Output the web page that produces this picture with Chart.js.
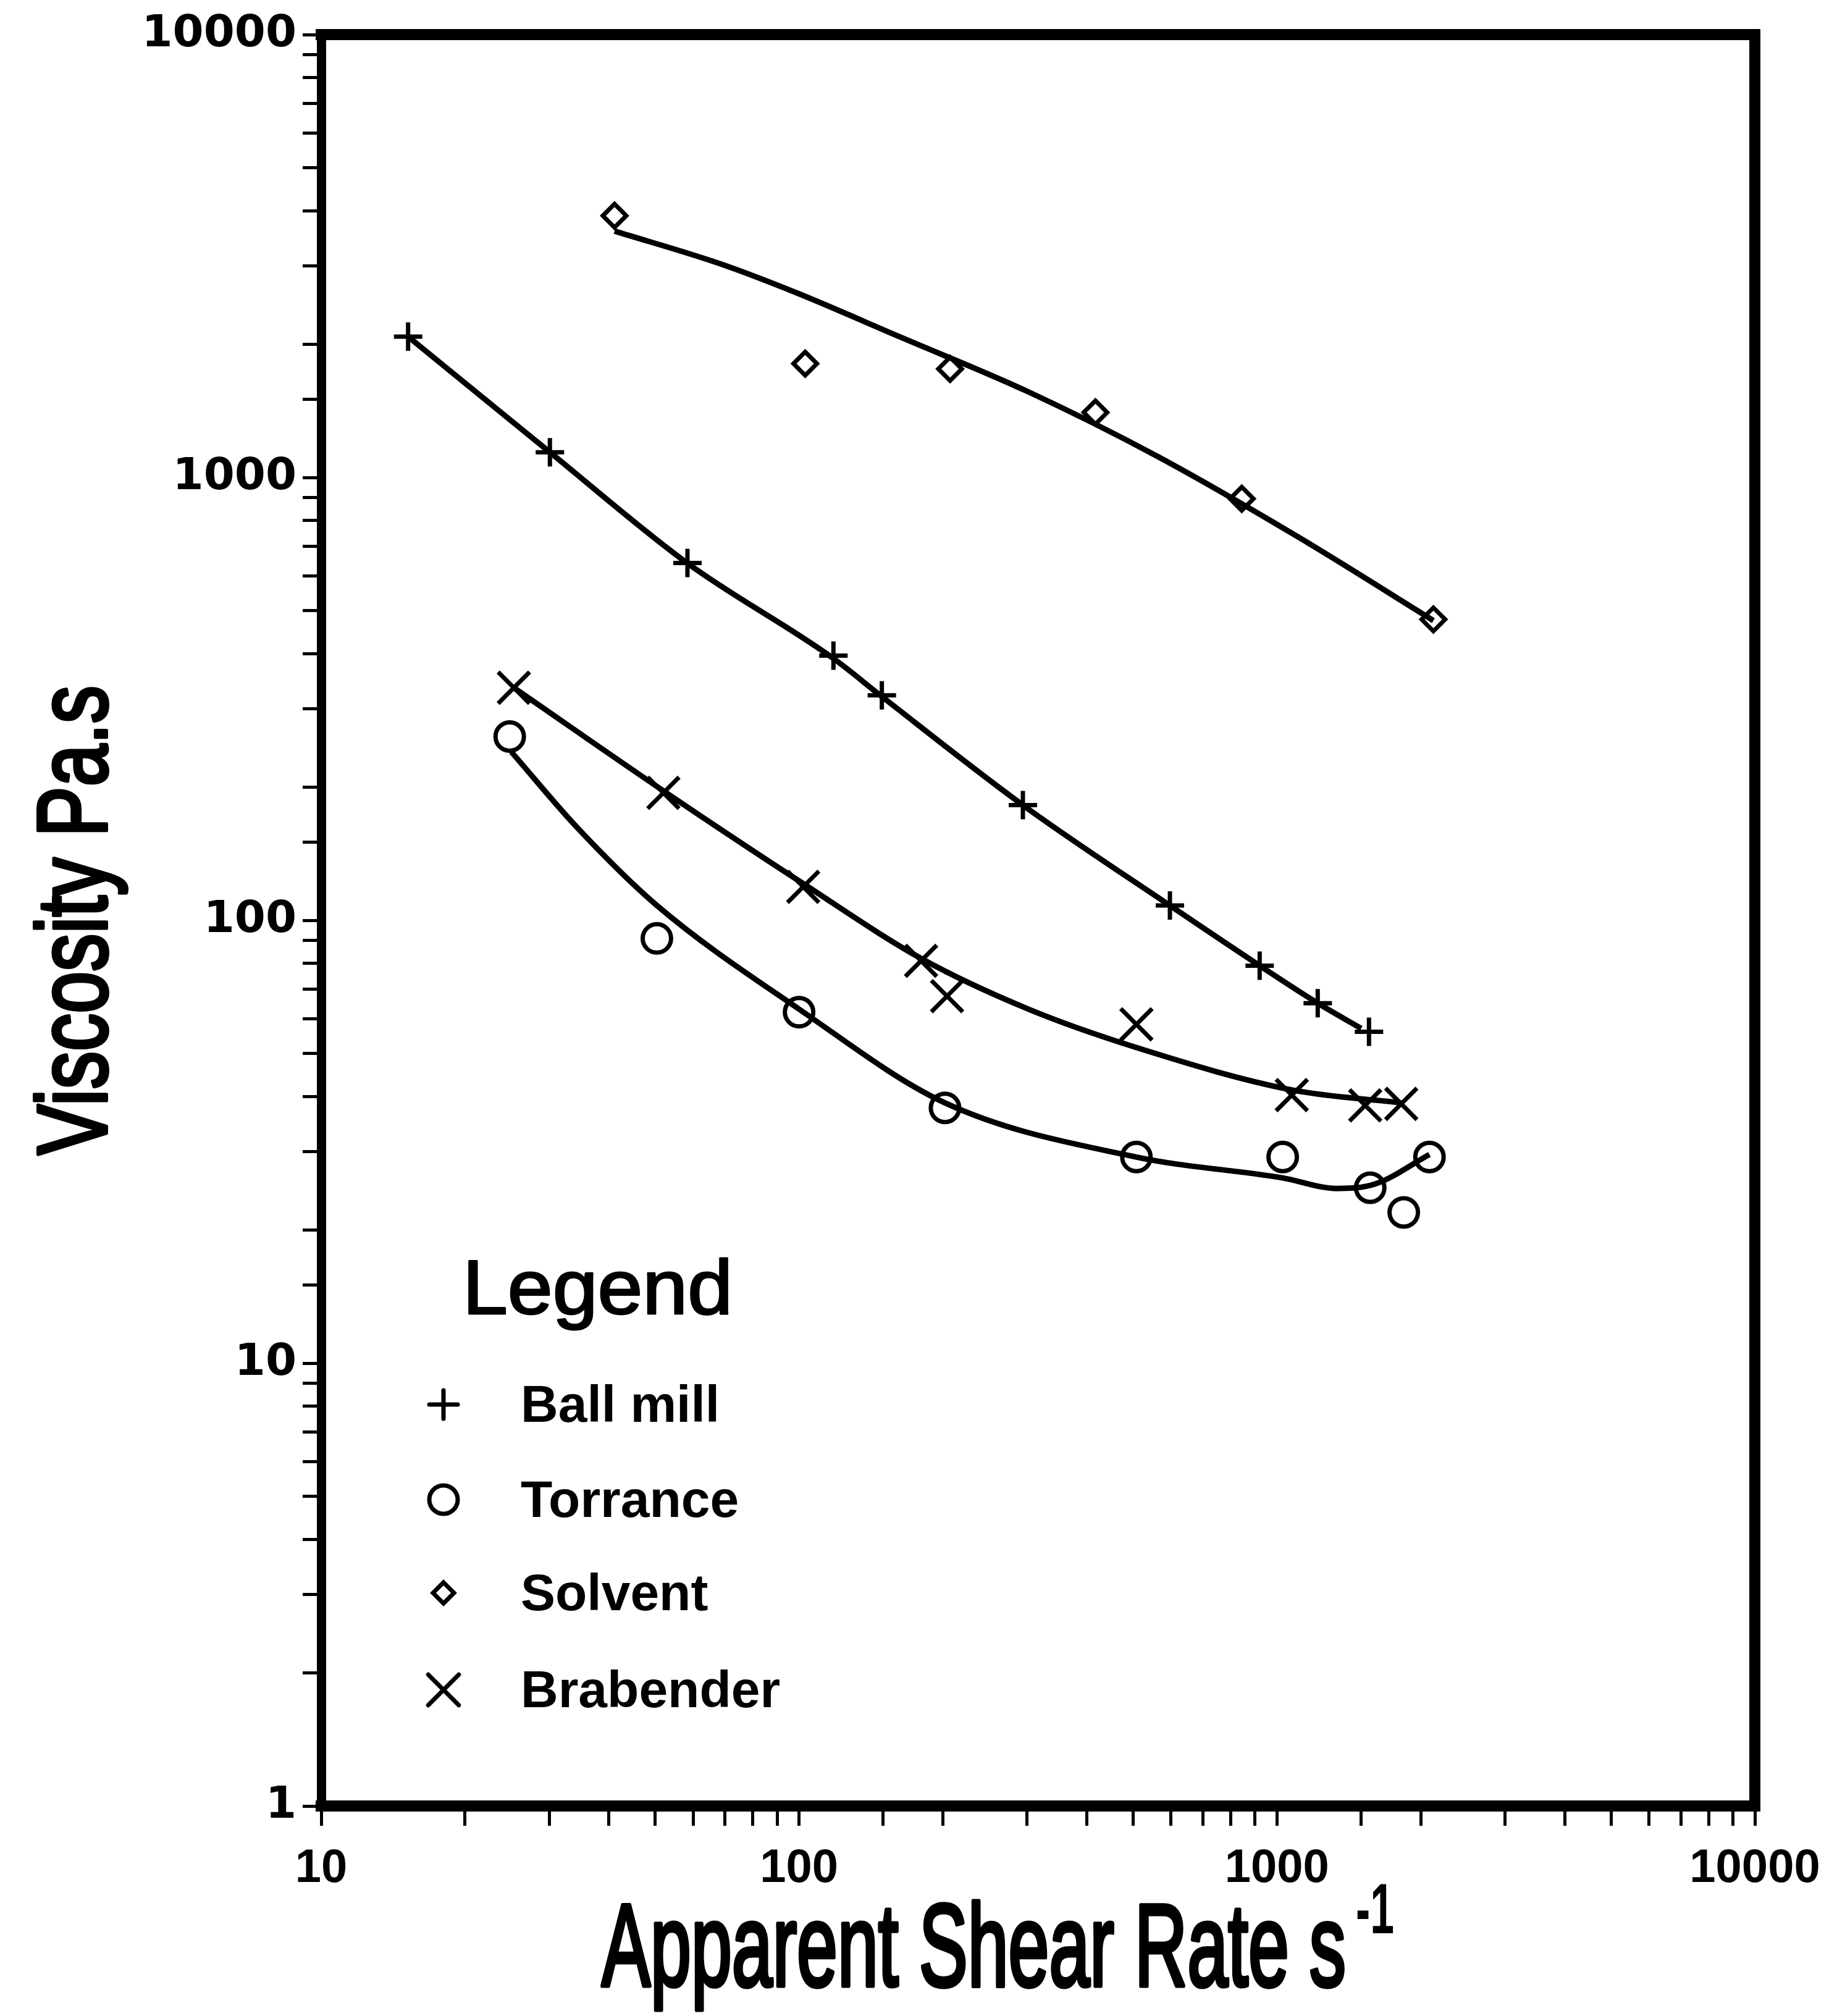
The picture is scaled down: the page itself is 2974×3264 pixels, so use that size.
<!DOCTYPE html>
<html>
<head>
<meta charset="utf-8">
<title>Viscosity vs Apparent Shear Rate</title>
<script src="https://cdn.jsdelivr.net/npm/chart.js@4.4.1/dist/chart.umd.min.js"></script>
<style>
  html, body { margin: 0; padding: 0; background: #fff; }
  canvas { display: block; }
</style>
</head>
<body>
<canvas id="viscChart" width="2974" height="3264"></canvas>
<script>
// tick labels shown on the log axes
const xTickLabels = [10, 100, 1000, 10000];
const yTickLabels = [1, 10, 100, 1000, 10000];

// measured points: shear rate (1/s) and viscosity (Pa.s)
const ballMillX = [15.2, 30.1, 58.4, 118, 149, 294, 597, 920, 1217, 1558];
const ballMillY = [2080, 1140, 641, 396, 322, 182, 108, 79, 65, 56];

const torranceX = [24.8, 50.4, 100, 202, 508, 1028, 1567, 1842, 2085];
const torranceY = [260, 91, 62, 37.7, 29.2, 29.2, 24.9, 21.9, 29.2];

const solventX = [41.1, 103, 207, 417, 844, 2125];
const solventY = [3900, 1807, 1758, 1402, 895, 478];

const brabenderX = [25.3, 52, 102, 180, 204, 508, 1074, 1530, 1820];
const brabenderY = [335, 194, 119, 81, 67.4, 58.2, 40.3, 38.2, 38.5];

// hand drawn fit curves
const ballMillFitX = [15.2, 30.1, 58.4, 118, 149, 294, 597, 920, 1217, 1500];
const ballMillFitY = [2080, 1140, 640, 390, 320, 182, 108, 79, 65, 57];

const torranceFitX = [25, 34.5, 50.4, 100, 202, 508, 1028, 1334, 1607, 2085];
const torranceFitY = [240, 161, 108, 63, 38.7, 29.2, 26.2, 24.8, 25.4, 29.6];

const solventFitX = [41.1, 68.2, 98.9, 162, 302, 561, 1109, 2125];
const solventFitY = [3600, 3040, 2610, 2080, 1560, 1117, 733, 475];

const brabenderFitX = [25.3, 52, 102, 180, 302, 508, 1074, 1820];
const brabenderFitY = [335, 196, 121, 82, 63, 51.6, 41.4, 38.7];

const toPoints = (xs, ys) => xs.map((x, i) => ({ x: x, y: ys[i] }));

function markerSet(label, xs, ys, style, radius) {
  return {
    label: label,
    data: toPoints(xs, ys),
    showLine: false,
    pointStyle: style,
    pointRadius: radius,
    pointHoverRadius: radius,
    pointBorderWidth: 7,
    pointBorderColor: '#000',
    pointBackgroundColor: 'rgba(0,0,0,0)',
    order: 0
  };
}

function fitSet(label, xs, ys) {
  return {
    label: label,
    fit: true,
    data: toPoints(xs, ys),
    showLine: true,
    borderColor: '#000',
    borderWidth: 9,
    pointRadius: 0,
    cubicInterpolationMode: 'monotone',
    order: 1
  };
}

function isDecade(value, list) {
  return list.some(v => Math.abs(v - value) < 1e-6 * v);
}

// small symbol drawer for the legend
function drawSymbol(ctx, style, r, x, y) {
  ctx.beginPath();
  if (style === 'cross') {
    ctx.moveTo(x - r, y); ctx.lineTo(x + r, y);
    ctx.moveTo(x, y - r); ctx.lineTo(x, y + r);
  } else if (style === 'crossRot') {
    const d = r * Math.SQRT1_2;
    ctx.moveTo(x - d, y - d); ctx.lineTo(x + d, y + d);
    ctx.moveTo(x - d, y + d); ctx.lineTo(x + d, y - d);
  } else if (style === 'rectRot') {
    ctx.moveTo(x, y - r); ctx.lineTo(x + r, y);
    ctx.lineTo(x, y + r); ctx.lineTo(x - r, y); ctx.closePath();
  } else {
    ctx.arc(x, y, r, 0, Math.PI * 2);
  }
  ctx.stroke();
}

// text squeezed to a target width, with an optional outline to thicken it
function squeezed(ctx, text, font, targetWidth, outline) {
  ctx.font = font;
  const w = ctx.measureText(text).width;
  ctx.scale(targetWidth / w, 1);
  ctx.fillText(text, 0, 0);
  if (outline) {
    ctx.lineWidth = outline;
    ctx.lineJoin = 'round';
    ctx.strokeText(text, 0, 0);
  }
}

const framePlugin = {
  id: 'frame',
  afterDraw(chart) {
    const { ctx, chartArea } = chart;
    ctx.save();
    ctx.strokeStyle = '#000';
    ctx.lineWidth = 18;
    ctx.lineCap = 'square';
    ctx.beginPath();
    ctx.moveTo(chartArea.left, chartArea.top);
    ctx.lineTo(chartArea.right, chartArea.top);
    ctx.lineTo(chartArea.right, chartArea.bottom);
    ctx.stroke();
    ctx.restore();
  }
};

const titlesPlugin = {
  id: 'titles',
  afterDraw(chart) {
    const { ctx, chartArea } = chart;
    ctx.save();
    ctx.fillStyle = '#000';
    ctx.strokeStyle = '#000';
    ctx.textBaseline = 'alphabetic';
    ctx.textAlign = 'left';

    // y title, rotated
    ctx.save();
    ctx.translate(172, (chartArea.top + chartArea.bottom) / 2);
    ctx.rotate(-Math.PI / 2);
    ctx.translate(-380, 0);
    squeezed(ctx, 'Viscosity Pa.s', '160px "Liberation Sans"', 760, 6);
    ctx.restore();

    // x title with superscript
    ctx.save();
    ctx.translate(chartArea.left + 454, 3215);
    squeezed(ctx, 'Apparent Shear Rate s', '190px "Liberation Sans"', 1205, 7);
    ctx.restore();
    ctx.save();
    ctx.translate(chartArea.left + 1675, 3130);
    squeezed(ctx, '-1', 'bold 115px "Liberation Sans"', 62);
    ctx.restore();

    ctx.restore();
  }
};

const legendPlugin = {
  id: 'boxLegend',
  afterDraw(chart) {
    const { ctx, chartArea } = chart;
    const left = chartArea.left;
    ctx.save();
    ctx.fillStyle = '#000';
    ctx.strokeStyle = '#000';
    ctx.textAlign = 'left';
    ctx.textBaseline = 'alphabetic';

    ctx.save();
    ctx.translate(left + 229, 2127);
    squeezed(ctx, 'Legend', '125px "Liberation Sans"', 437, 3);
    ctx.restore();

    const items = chart.data.datasets.filter(ds => !ds.fit);
    const baselines = [2302, 2456, 2607, 2764];
    items.forEach((ds, i) => {
      const by = baselines[i];
      ctx.lineWidth = 7;
      ctx.lineCap = 'round';
      const r = ds.pointStyle === 'crossRot' ? 35 : ds.pointStyle === 'rectRot' ? 17 : 23;
      drawSymbol(ctx, ds.pointStyle, r, left + 198, by - 28);
      ctx.font = 'bold 84px "Liberation Sans"';
      ctx.fillText(ds.label, left + 323, by);
    });
    ctx.restore();
  }
};

const ctx = document.getElementById('viscChart').getContext('2d');

const chart = new Chart(ctx, {
  type: 'scatter',
  data: {
    datasets: [
      markerSet('Ball mill', ballMillX, ballMillY, 'cross', 23),
      markerSet('Torrance', torranceX, torranceY, 'circle', 23),
      markerSet('Solvent', solventX, solventY, 'rectRot', 19),
      markerSet('Brabender', brabenderX, brabenderY, 'crossRot', 36),
      fitSet('Ball mill fit', ballMillFitX, ballMillFitY),
      fitSet('Torrance fit', torranceFitX, torranceFitY),
      fitSet('Solvent fit', solventFitX, solventFitY),
      fitSet('Brabender fit', brabenderFitX, brabenderFitY)
    ]
  },
  options: {
    responsive: false,
    animation: false,
    devicePixelRatio: 1,
    layout: { padding: { top: 56, right: 133, left: 0, bottom: 0 } },
    plugins: {
      legend: { display: false },
      tooltip: { enabled: false }
    },
    scales: {
      x: {
        type: 'logarithmic',
        min: 10,
        max: 10000,
        border: { display: true, color: '#000', width: 18 },
        grid: { drawOnChartArea: false, drawTicks: true, tickLength: 32, tickWidth: 5, tickColor: '#000' },
        ticks: {
          autoSkip: false,
          maxRotation: 0,
          padding: 24,
          color: '#000',
          font: { family: 'Liberation Sans', weight: 'bold', size: 76 },
          callback: v => isDecade(v, xTickLabels) ? String(v) : ''
        },
        afterFit: s => { s.height = 340; }
      },
      y: {
        type: 'logarithmic',
        min: 1,
        max: 10000,
        border: { display: true, color: '#000', width: 15 },
        grid: { drawOnChartArea: false, drawTicks: true, tickLength: 30, tickWidth: 5, tickColor: '#000' },
        ticks: {
          autoSkip: false,
          padding: 10,
          color: '#000',
          font: { family: 'DejaVu Sans', weight: 'bold', size: 72 },
          callback: v => isDecade(v, yTickLabels) ? String(v) : ''
        },
        afterFit: s => { s.width = 520; }
      }
    }
  },
  plugins: [framePlugin, titlesPlugin, legendPlugin]
});
</script>
</body>
</html>
